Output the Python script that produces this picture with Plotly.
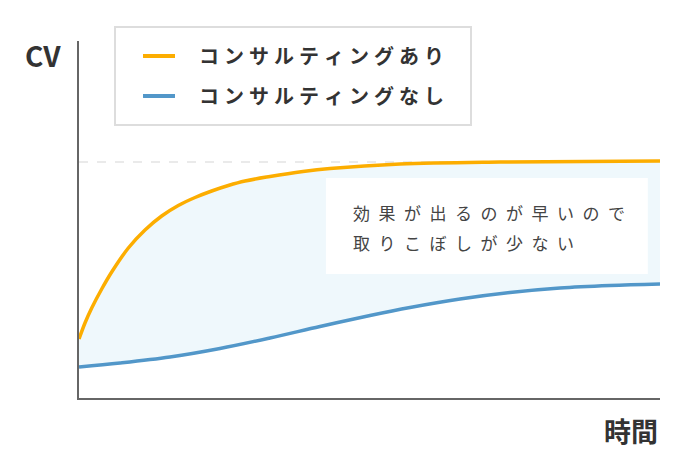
import plotly.graph_objects as go

# Values (time 0-100, CV in arbitrary units)
with_x = [0, 1.03, 2.19, 3.91, 5.63, 8.49, 11.36, 14.23, 17.09, 19.97, 22.84, 25.7, 28.57,
          32.87, 38.55, 43.2, 55.25, 72.5, 100]
with_y = [59, 75, 90, 109, 126, 150, 168, 182, 192.5, 200.5, 207, 212.5, 217,
          221.5, 226.5, 229.5, 234, 236, 237]

without_x = [0, 7.06, 15.66, 24.27, 32.87, 41.48, 50.09, 56.97, 65.58, 74.18, 82.79, 91.39, 100]
without_y = [31, 35, 41, 49.5, 60, 71.5, 82.5, 90.5, 99, 105.5, 110, 112.5, 114]

series_names = ["コンサルティングあり", "コンサルティングなし"]
plateau_level = 236
note_lines = ["効果が出るのが早いので", "取りこぼしが少ない"]
y_label = "CV"
x_label = "時間"

ORANGE = "#FCAD00"
BLUE = "#5297C9"
FILL = "#EFF8FC"
AXIS = "#666666"
TEXT = "#333333"
FONT = "Noto Sans CJK JP"


def spaced(text, gap):
    # the reference text is letter-spaced; plotly has no letter-spacing option
    return gap.join(text)


fig = go.Figure()

fig.add_trace(go.Scatter(
    x=without_x, y=without_y, name=series_names[1],
    mode="lines", line=dict(color=BLUE, width=3.5, shape="spline"),
    showlegend=False,
))
fig.add_trace(go.Scatter(
    x=with_x, y=with_y, name=series_names[0],
    mode="lines", line=dict(color=ORANGE, width=3.5, shape="spline"),
    fill="tonexty", fillcolor=FILL, showlegend=False,
))

# dashed plateau guide
fig.add_shape(type="line", x0=0, x1=100, y0=plateau_level, y1=plateau_level,
              line=dict(color="#e3e3e3", width=1.5, dash="dash"), layer="below")

# white note box
fig.add_shape(type="rect", x0=42.5, x1=97.9, y0=124, y1=220,
              fillcolor="white", line=dict(width=0), layer="above")
for i, line_text in enumerate(note_lines):
    fig.add_annotation(x=46.8, y=186 - 30 * i, text=spaced(line_text, "\u2002"),
                       showarrow=False, xanchor="left", yanchor="middle",
                       font=dict(family=FONT, size=17, color="#444444"))

# legend box, drawn by hand so the padding matches the reference
fig.add_shape(type="rect", xref="paper", yref="paper", x0=0.062, x1=0.6747, y0=0.7647, y1=1.0392,
              fillcolor="white", line=dict(color="#dddddd", width=2), layer="above")
legend_colors = [ORANGE, BLUE]
for i, (name, color) in enumerate(zip(series_names, legend_colors)):
    ly = 0.958 - 0.112 * i
    fig.add_shape(type="line", xref="paper", yref="paper", x0=0.1102, x1=0.1652, y0=ly, y1=ly,
                  line=dict(color=color, width=4), layer="above")
    fig.add_annotation(x=0.2031, y=ly, xref="paper", yref="paper", text=spaced(name, "\u2005"),
                       showarrow=False, xanchor="left", yanchor="middle",
                       font=dict(family=FONT, size=20, color=TEXT, weight="bold"))

fig.add_annotation(x=-0.062, y=0.961, xref="paper", yref="paper", text=y_label,
                   showarrow=False, xanchor="center", yanchor="middle",
                   font=dict(family=FONT, size=28, color=TEXT, weight="bold"))
fig.add_annotation(x=1.0, y=-0.092, xref="paper", yref="paper", text=x_label,
                   showarrow=False, xanchor="right", yanchor="middle",
                   font=dict(family=FONT, size=27, color=TEXT, weight="bold"))

fig.update_layout(
    width=692, height=462,
    margin=dict(l=71, r=40, t=33, b=72),
    paper_bgcolor="white", plot_bgcolor="white",
    font=dict(family=FONT, color=TEXT),
    xaxis=dict(range=[0, 100], showgrid=False, zeroline=False, showticklabels=False,
               ticks="", showline=True, linecolor=AXIS, linewidth=2, fixedrange=True),
    yaxis=dict(range=[0, 357], showgrid=False, zeroline=False, showticklabels=False,
               ticks="", showline=True, linecolor=AXIS, linewidth=2, fixedrange=True),
    showlegend=False,
)

fig.write_html("out.html")
